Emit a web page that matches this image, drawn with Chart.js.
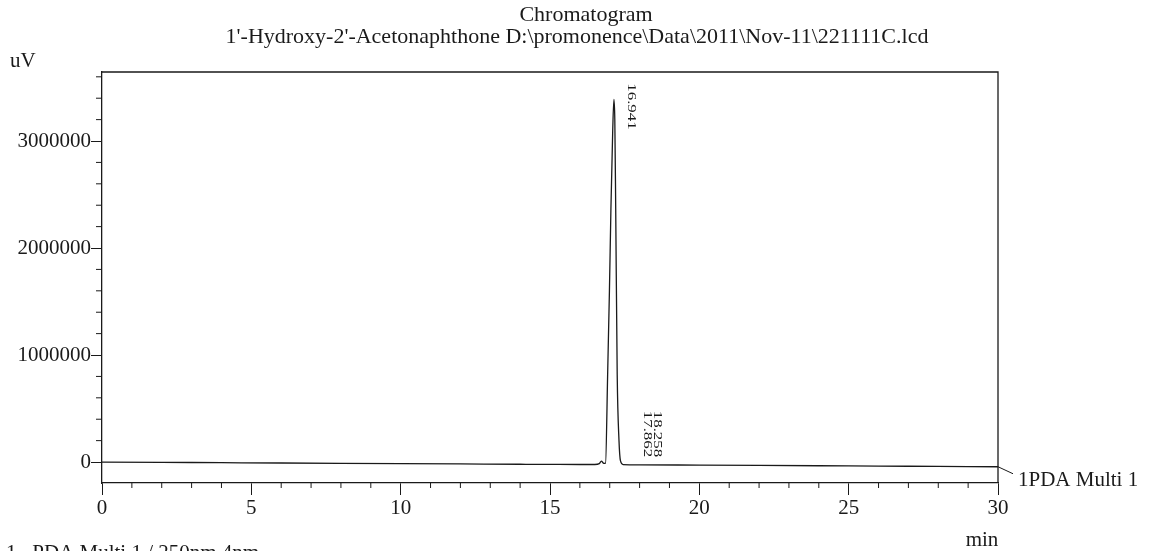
<!DOCTYPE html>
<html>
<head>
<meta charset="utf-8">
<script src="https://cdn.jsdelivr.net/npm/chart.js@4"></script>
<style>
  html, body { margin: 0; padding: 0; background: #fff; }
  #wrap { width: 1151px; height: 551px; position: relative; }
</style>
</head>
<body>
<div id="wrap"><canvas id="chrom"></canvas></div>
<script>
// retention time (min) and detector signal (uV)
const times = [0, 2, 4, 6, 8, 10, 12, 14, 15, 16, 16.5, 16.65, 16.72, 16.8, 16.86,
  16.93, 16.99, 17.04, 17.1, 17.14, 17.17, 17.2, 17.25, 17.31, 17.36, 17.45, 18, 20, 22, 24, 26, 28, 30];
const signal = [0, -3000, -6000, -9000, -12000, -15000, -18000, -21000, -22000, -23000, -23000, -15000, 8000, -12000, -10000,
  820000, 1600000, 2370000, 3100000, 3390000, 3200000, 2370000, 820000, 200000, 10000, -24000,
  -26000, -29000, -32000, -35000, -38000, -41000, -44000];

const peakLabels = ['16.941', '17.862', '18.258'];
const peakTimes = [16.941, 17.862, 18.258];
const peakOffsets = [23, 12, 10];

const xMajor = [0, 5, 10, 15, 20, 25, 30];
const yMajor = [0, 1000000, 2000000, 3000000];

const title1 = 'Chromatogram';
const title2 = "1'-Hydroxy-2'-Acetonaphthone D:\\promonence\\Data\\2011\\Nov-11\\221111C.lcd";
const channelName = '1PDA Multi 1';
const footNote = '1   PDA Multi 1 / 250nm 4nm';

const FONT = '"Liberation Serif", "Times New Roman", serif';
const INK = '#1a1a1a';

const extras = {
  id: 'extras',
  afterDraw(chart) {
    const { ctx, chartArea: a, scales: { x, y } } = chart;
    ctx.save();
    ctx.strokeStyle = INK;
    ctx.lineWidth = 1.3;
    // top and right frame
    ctx.beginPath();
    ctx.moveTo(a.left, a.top); ctx.lineTo(a.right, a.top); ctx.lineTo(a.right, a.bottom);
    ctx.stroke();
    // minor ticks
    ctx.lineWidth = 1;
    ctx.beginPath();
    for (let t = 0; t <= 30; t += 1) {
      if (t % 5 === 0) continue;
      const px = x.getPixelForValue(t);
      ctx.moveTo(px, a.bottom); ctx.lineTo(px, a.bottom + 5);
    }
    for (let v = -200000; v <= 3600000; v += 200000) {
      if (v % 1000000 === 0) continue;
      const py = y.getPixelForValue(v);
      if (py < a.top || py > a.bottom) continue;
      ctx.moveTo(a.left, py); ctx.lineTo(a.left - 6, py);
    }
    ctx.stroke();

    ctx.fillStyle = INK;
    ctx.font = '22px ' + FONT;
    ctx.textAlign = 'center';
    ctx.textBaseline = 'middle';
    ctx.fillText(title1, 586, 15);
    ctx.fillText(title2, 577, 37);
    ctx.font = '21px ' + FONT;
    ctx.textAlign = 'left';
    ctx.fillText('uV', 10, 61);
    ctx.textAlign = 'center';
    ctx.fillText('min', 982, 540);
    ctx.textAlign = 'left';
    ctx.textBaseline = 'alphabetic';
    ctx.fillText(footNote, 6, 559);

    // channel leader line and name
    const n = times.length - 1;
    const ex = x.getPixelForValue(times[n]), ey = y.getPixelForValue(signal[n]);
    ctx.beginPath();
    ctx.moveTo(ex, ey); ctx.lineTo(ex + 15, ey + 7);
    ctx.stroke();
    ctx.textBaseline = 'middle';
    ctx.fillText(channelName, ex + 20, ey + 14);

    // peak retention labels, rotated (narrow, condensed print)
    ctx.font = '13px ' + FONT;
    peakLabels.forEach((lab, i) => {
      const px = x.getPixelForValue(peakTimes[i]) + peakOffsets[i];
      ctx.save();
      if (i === 0) {
        ctx.translate(px, y.getPixelForValue(3540000));
        ctx.textAlign = 'left';
      } else {
        ctx.translate(px, y.getPixelForValue(45000));
        ctx.textAlign = 'right';
      }
      ctx.rotate(Math.PI / 2);
      ctx.scale(1.3, 1);
      ctx.textBaseline = 'middle';
      ctx.fillText(lab, 0, 0);
      ctx.restore();
    });
    ctx.restore();
  }
};

new Chart(document.getElementById('chrom'), {
  type: 'line',
  data: {
    datasets: [{
      data: times.map((t, i) => ({ x: t, y: signal[i] })),
      borderColor: INK,
      borderWidth: 1.3,
      pointRadius: 0,
      cubicInterpolationMode: 'monotone',
      fill: false
    }]
  },
  options: {
    responsive: true,
    maintainAspectRatio: false,
    animation: false,
    layout: { padding: { top: 72, right: 153, left: 0, bottom: 0 } },
    plugins: { legend: { display: false }, tooltip: { enabled: false } },
    scales: {
      x: {
        type: 'linear',
        min: 0,
        max: 30,
        afterBuildTicks: ax => { ax.ticks = xMajor.map(v => ({ value: v })); },
        afterFit: ax => { ax.height = 68; },
        grid: { drawOnChartArea: false, tickLength: 12, color: INK, tickWidth: 1 },
        border: { color: INK, width: 1.3 },
        ticks: { color: INK, font: { family: FONT, size: 21 }, padding: 1, maxRotation: 0 }
      },
      y: {
        min: -196000,
        max: 3645000,
        afterBuildTicks: ax => { ax.ticks = yMajor.map(v => ({ value: v })); },
        afterFit: ax => { ax.width = 102; },
        grid: { drawOnChartArea: false, tickLength: 11, color: INK, tickWidth: 1 },
        border: { color: INK, width: 1.3 },
        ticks: { color: INK, font: { family: FONT, size: 21 }, padding: 0, callback: v => String(v) }
      }
    }
  },
  plugins: [extras]
});
</script>
</body>
</html>
